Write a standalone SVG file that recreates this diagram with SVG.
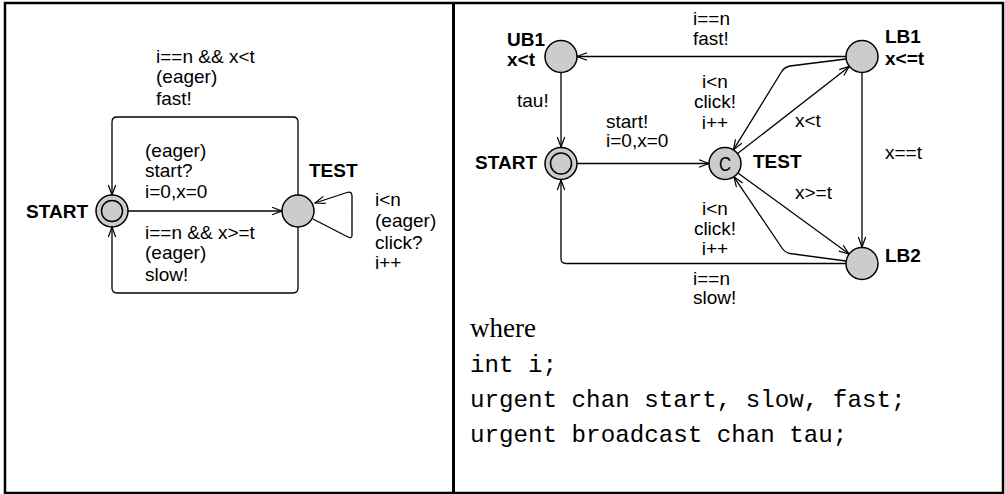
<svg xmlns="http://www.w3.org/2000/svg" width="1005" height="494" viewBox="0 0 1005 494">
<style>
.lbl{font-family:"Liberation Sans",Arial,sans-serif;font-size:19px;fill:#000}
.nm{font-family:"Liberation Sans",Arial,sans-serif;font-size:19px;font-weight:bold;fill:#000}
.mid{text-anchor:middle}
.end{text-anchor:end}
.node{fill:#cccccc;stroke:#000;stroke-width:1.5}
.edge{fill:none;stroke:#000;stroke-width:1.3}
.frame{fill:none;stroke:#000;stroke-width:2.5}
.mono{font-family:"Liberation Mono","Courier New",monospace;font-size:24.2px;fill:#000}
.serif{font-family:"Liberation Serif","Times New Roman",serif;font-size:27px;fill:#000}
</style>
<defs>
<marker id="arr" markerUnits="userSpaceOnUse" markerWidth="13" markerHeight="10" refX="11" refY="4.5" orient="auto">
<path d="M1,0.8 L11,4.5 L1,8.2" fill="none" stroke="#000" stroke-width="1.2"/>
</marker>
</defs>
<rect width="1005" height="494" fill="#fff"/>
<g id="frame">
<rect class="frame" x="5" y="3" width="998" height="490"/>
<line x1="453.5" y1="3" x2="453.5" y2="493" stroke="#000" stroke-width="3"/>
</g>
<g id="connectors">
<path class="edge" d="M298,195 L298,122 Q298,117 293,117 L117,117 Q112,117 112,122 L112,195" marker-end="url(#arr)"/>
<path class="edge" d="M298,227 L298,288 Q298,293 293,293 L117,293 Q112,293 112,288 L112,227" marker-end="url(#arr)"/>
<path class="edge" d="M128,211 L282,211" marker-end="url(#arr)"/>
<path class="edge" d="M313,219 L348,237 Q352,239 352,235 L352,196 Q352,191 347,192.5 L315,203" marker-end="url(#arr)"/>
<path class="edge" d="M846,56.5 L577,56.5" marker-end="url(#arr)"/>
<path class="edge" d="M561,73 L561,147" marker-end="url(#arr)"/>
<path class="edge" d="M577,163.5 L709,163.5" marker-end="url(#arr)"/>
<path class="edge" d="M737.6,153.6 L849.4,66.4" marker-end="url(#arr)"/>
<path class="edge" d="M846,59 L790,66 Q785,67 782,71 L733.4,149.9" marker-end="url(#arr)"/>
<path class="edge" d="M737.9,172.9 L849.1,254.1" marker-end="url(#arr)"/>
<path class="edge" d="M846,261 L790,253.5 Q785,252.5 782,248 L733.9,176.8" marker-end="url(#arr)"/>
<path class="edge" d="M862,73 L862,247" marker-end="url(#arr)"/>
<path class="edge" d="M846,263.5 L566,263.5 Q561,263.5 561,258.5 L561,180" marker-end="url(#arr)"/>
</g>
<g id="edge-labels">
<text class="lbl" x="156" y="63">i==n &amp;&amp; x&lt;t</text>
<text class="lbl" x="156" y="83">(eager)</text>
<text class="lbl" x="156" y="105">fast!</text>
<text class="lbl" x="145" y="157">(eager)</text>
<text class="lbl" x="145" y="177">start?</text>
<text class="lbl" x="145" y="198">i=0,x=0</text>
<text class="lbl" x="145" y="239">i==n &amp;&amp; x&gt;=t</text>
<text class="lbl" x="145" y="259">(eager)</text>
<text class="lbl" x="145" y="281">slow!</text>
<text class="lbl" x="375" y="206">i&lt;n</text>
<text class="lbl" x="375" y="227">(eager)</text>
<text class="lbl" x="375" y="249">click?</text>
<text class="lbl" x="375" y="269">i++</text>
<text class="lbl" x="693" y="25">i==n</text>
<text class="lbl" x="693" y="45">fast!</text>
<text class="lbl" x="517" y="107">tau!</text>
<text class="lbl" x="606" y="128">start!</text>
<text class="lbl" x="606" y="147">i=0,x=0</text>
<text class="lbl mid" x="715" y="88">i&lt;n</text>
<text class="lbl mid" x="715" y="108">click!</text>
<text class="lbl mid" x="715" y="129">i++</text>
<text class="lbl mid" x="715" y="215">i&lt;n</text>
<text class="lbl mid" x="715" y="235">click!</text>
<text class="lbl mid" x="715" y="255">i++</text>
<text class="lbl" x="693" y="285">i==n</text>
<text class="lbl" x="693" y="304">slow!</text>
<text class="lbl" x="795" y="127">x&lt;t</text>
<text class="lbl" x="795" y="199">x&gt;=t</text>
<text class="lbl" x="885" y="159">x==t</text>
</g>
<g id="L-START">
<circle class="node" cx="112" cy="211" r="16"/>
<circle class="node" cx="112" cy="211" r="10.5"/>
<text class="nm end" x="88" y="218">START</text>
</g>
<g id="L-TEST">
<circle class="node" cx="298" cy="211" r="16"/>
<text class="nm" x="309" y="177">TEST</text>
</g>
<g id="R-UB1">
<circle class="node" cx="561" cy="56.5" r="16"/>
<text class="nm" x="507" y="46">UB1</text>
<text class="nm" x="507" y="66">x&lt;t</text>
</g>
<g id="R-START">
<circle class="node" cx="561" cy="163.5" r="16"/>
<circle class="node" cx="561" cy="163.5" r="10.5"/>
<text class="nm end" x="537" y="169">START</text>
</g>
<g id="R-TEST">
<circle class="node" cx="725" cy="163.5" r="16"/>
<text class="lbl mid" x="725" y="171" style="font-size:21px" transform="translate(725,0) scale(0.8,1) translate(-725,0)">C</text>
<text class="nm" x="753" y="168">TEST</text>
</g>
<g id="R-LB1">
<circle class="node" cx="862" cy="56.5" r="16"/>
<text class="nm" x="885" y="43">LB1</text>
<text class="nm" x="885" y="65">x&lt;=t</text>
</g>
<g id="R-LB2">
<circle class="node" cx="862" cy="263.5" r="16"/>
<text class="nm" x="885" y="262">LB2</text>
</g>
<g id="declarations">
<text class="serif" x="470" y="337">where</text>
<text class="mono" x="470" y="372">int i;</text>
<text class="mono" x="470" y="407">urgent chan start, slow, fast;</text>
<text class="mono" x="470" y="442">urgent broadcast chan tau;</text>
</g>
</svg>
